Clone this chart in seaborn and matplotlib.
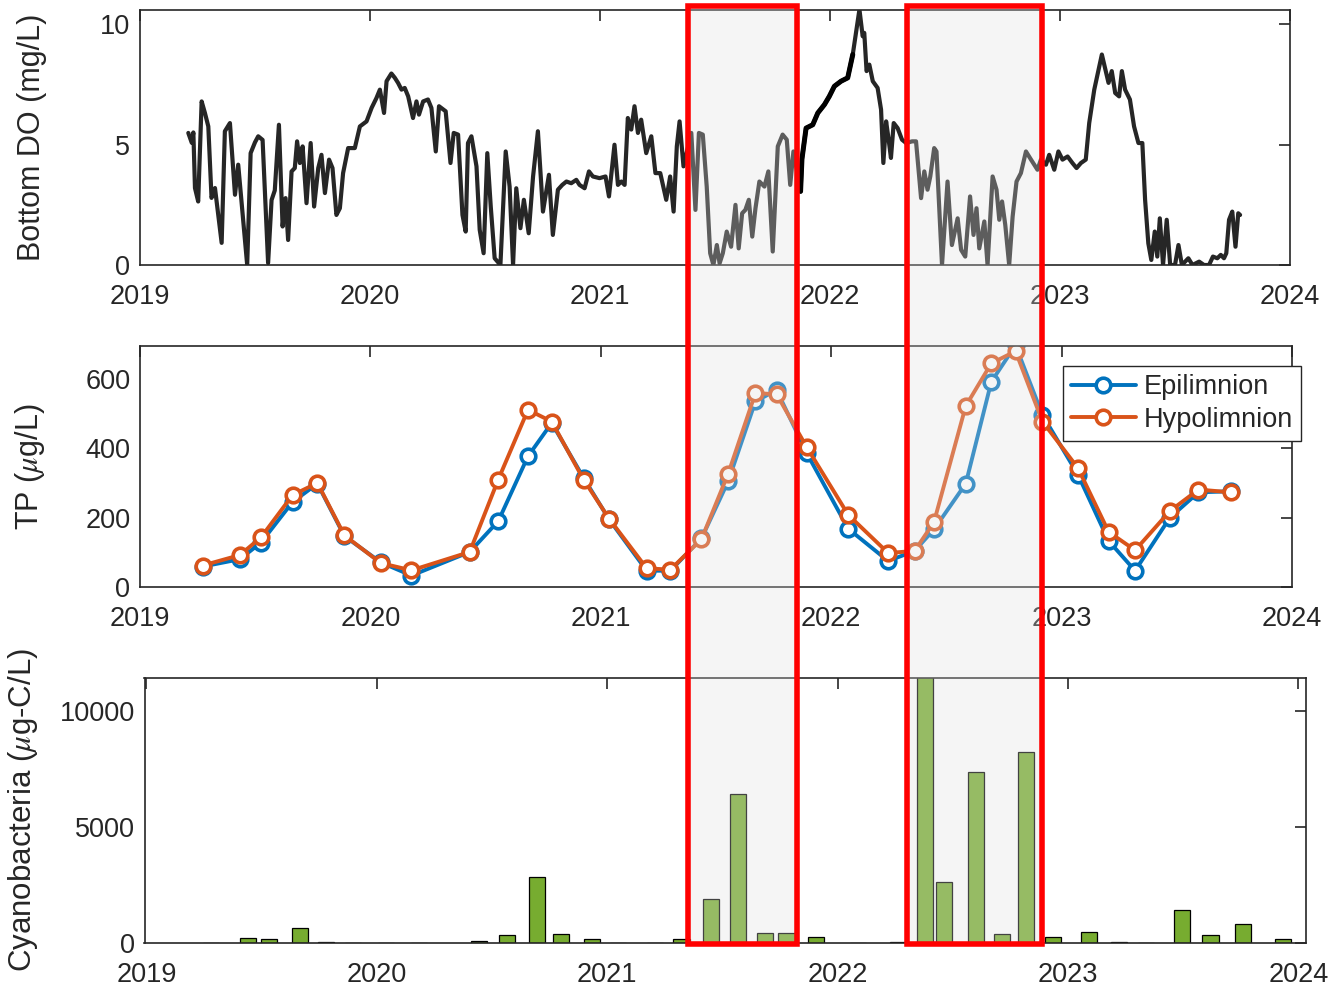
import numpy as np
import pandas as pd
import matplotlib
matplotlib.use("Agg")
import matplotlib.pyplot as plt
from matplotlib.patches import Rectangle
import seaborn as sns

# ---- data (decimal years) ----
do_year = [
    2019.210, 2019.225, 2019.232, 2019.239, 2019.253, 2019.268, 2019.282, 2019.297, 2019.311, 2019.326,
    2019.355, 2019.369, 2019.391, 2019.413, 2019.427, 2019.442, 2019.466, 2019.481, 2019.500, 2019.514,
    2019.533, 2019.557, 2019.572, 2019.586, 2019.604, 2019.620, 2019.633, 2019.644, 2019.659, 2019.673,
    2019.683, 2019.695, 2019.707, 2019.724, 2019.742, 2019.757, 2019.775, 2019.789, 2019.804, 2019.822,
    2019.837, 2019.854, 2019.869, 2019.883, 2019.905, 2019.934, 2019.956, 2019.985, 2020.007, 2020.028,
    2020.043, 2020.061, 2020.072, 2020.093, 2020.108, 2020.122, 2020.137, 2020.151, 2020.166, 2020.187,
    2020.202, 2020.213, 2020.231, 2020.252, 2020.267, 2020.286, 2020.300, 2020.329, 2020.350, 2020.364,
    2020.383, 2020.402, 2020.416, 2020.426, 2020.441, 2020.463, 2020.477, 2020.494, 2020.510, 2020.525,
    2020.542, 2020.567, 2020.590, 2020.607, 2020.622, 2020.636, 2020.654, 2020.669, 2020.690, 2020.709,
    2020.730, 2020.752, 2020.778, 2020.795, 2020.817, 2020.836, 2020.854, 2020.875, 2020.897, 2020.911,
    2020.933, 2020.952, 2020.969, 2020.998, 2021.024, 2021.039, 2021.063, 2021.078, 2021.093, 2021.107,
    2021.121, 2021.136, 2021.150, 2021.165, 2021.179, 2021.201, 2021.223, 2021.241, 2021.262, 2021.288,
    2021.305, 2021.320, 2021.334, 2021.346, 2021.363, 2021.397, 2021.415, 2021.430, 2021.447, 2021.464,
    2021.479, 2021.493, 2021.508, 2021.520, 2021.534, 2021.551, 2021.570, 2021.589, 2021.603, 2021.618,
    2021.632, 2021.647, 2021.662, 2021.676, 2021.693, 2021.715, 2021.732, 2021.751, 2021.773, 2021.794,
    2021.812, 2021.827, 2021.841, 2021.853, 2021.872, 2021.878, 2021.896, 2021.925, 2021.947, 2021.976,
    2021.997, 2022.019, 2022.048, 2022.077, 2022.099, 2022.128, 2022.142, 2022.149, 2022.159, 2022.171,
    2022.186, 2022.207, 2022.222, 2022.232, 2022.244, 2022.255, 2022.265, 2022.277, 2022.294, 2022.313,
    2022.331, 2022.357, 2022.374, 2022.396, 2022.410, 2022.424, 2022.436, 2022.453, 2022.463, 2022.487,
    2022.511, 2022.530, 2022.555, 2022.570, 2022.588, 2022.609, 2022.624, 2022.637, 2022.649, 2022.671,
    2022.685, 2022.707, 2022.724, 2022.736, 2022.748, 2022.762, 2022.779, 2022.794, 2022.811, 2022.830,
    2022.852, 2022.874, 2022.902, 2022.917, 2022.939, 2022.953, 2022.975, 2022.993, 2023.011, 2023.033,
    2023.054, 2023.072, 2023.091, 2023.112, 2023.127, 2023.149, 2023.182, 2023.199, 2023.211, 2023.225,
    2023.240, 2023.257, 2023.269, 2023.283, 2023.304, 2023.322, 2023.341, 2023.358, 2023.370, 2023.384,
    2023.397, 2023.412, 2023.423, 2023.434, 2023.448, 2023.464, 2023.479, 2023.500, 2023.515, 2023.530,
    2023.558, 2023.576, 2023.605, 2023.626, 2023.648, 2023.665, 2023.684, 2023.699, 2023.713, 2023.723,
    2023.735, 2023.749, 2023.763, 2023.775, 2023.783,
]
do_val = [
    5.49, 5.08, 5.51, 3.20, 2.64, 6.80, 6.33, 5.76, 2.79, 3.20,
    0.92, 5.56, 5.90, 2.92, 4.17, 2.58, 0.00, 4.65, 5.10, 5.35,
    5.20, 0.08, 2.70, 3.10, 5.83, 1.60, 2.78, 1.04, 3.89, 4.03,
    5.14, 4.24, 4.93, 2.57, 5.07, 2.43, 4.03, 4.58, 2.99, 4.38,
    4.03, 2.08, 2.36, 3.82, 4.86, 4.86, 5.76, 5.97, 6.53, 6.94,
    7.29, 6.32, 7.64, 7.96, 7.78, 7.57, 7.29, 7.36, 7.01, 6.11,
    6.80, 6.25, 6.80, 6.88, 6.53, 4.72, 6.60, 6.39, 4.24, 5.49,
    5.42, 2.08, 1.39, 5.07, 5.35, 4.10, 1.46, 0.49, 4.65, 2.43,
    0.28, 0.00, 4.72, 3.26, 0.00, 3.19, 1.53, 2.71, 1.32, 3.68,
    5.56, 2.22, 3.75, 1.25, 3.13, 3.33, 3.47, 3.40, 3.54, 3.33,
    3.19, 3.89, 3.68, 3.61, 3.68, 2.85, 5.00, 3.33, 3.47, 3.33,
    6.11, 5.63, 6.60, 5.49, 6.04, 4.65, 5.35, 3.82, 3.82, 2.71,
    3.68, 2.22, 4.93, 5.97, 4.10, 5.49, 2.29, 5.49, 5.42, 3.26,
    0.49, 0.00, 0.83, 0.07, 0.49, 1.39, 0.76, 2.50, 0.69, 2.15,
    2.29, 2.71, 1.18, 2.36, 3.47, 3.26, 3.89, 0.56, 4.93, 5.42,
    5.21, 3.33, 4.72, 4.10, 3.06, 4.40, 5.69, 5.83, 6.32, 6.67,
    7.01, 7.43, 7.64, 7.78, 8.75, 10.62, 9.51, 9.65, 8.06, 8.33,
    7.64, 7.36, 6.46, 4.24, 5.97, 5.21, 4.45, 5.90, 5.69, 5.21,
    5.07, 5.14, 5.14, 2.78, 3.89, 3.13, 3.68, 4.86, 4.72, 0.00,
    3.47, 0.83, 1.94, 0.63, 0.35, 2.85, 1.25, 2.36, 0.69, 1.81,
    0.00, 3.68, 3.13, 1.88, 2.64, 1.67, 0.00, 2.01, 3.47, 3.82,
    4.72, 4.38, 3.96, 4.38, 4.17, 4.58, 3.96, 4.72, 4.38, 4.51,
    4.24, 4.03, 4.24, 4.38, 5.90, 7.29, 8.75, 8.06, 7.57, 8.06,
    7.15, 7.01, 8.06, 7.29, 6.88, 5.76, 5.07, 5.07, 2.71, 0.90,
    0.21, 1.39, 0.35, 1.94, 0.00, 1.88, 0.00, 0.00, 0.83, 0.00,
    0.28, 0.00, 0.14, 0.00, 0.00, 0.35, 0.28, 0.42, 0.28, 0.49,
    1.88, 2.22, 0.76, 2.15, 2.08,
]

tp_year = [
    2019.272, 2019.433, 2019.525, 2019.662, 2019.770, 2019.887, 2020.045, 2020.178, 2020.431, 2020.555,
    2020.684, 2020.787, 2020.925, 2021.036, 2021.199, 2021.302, 2021.437, 2021.553, 2021.671, 2021.763,
    2021.893, 2022.074, 2022.247, 2022.362, 2022.446, 2022.584, 2022.695, 2022.800, 2022.917, 2023.071,
    2023.204, 2023.319, 2023.470, 2023.594, 2023.735,
]
tp_epi = [
    59, 80, 128, 245, 298, 147, 71, 33, 101, 190,
    377, 473, 315, 195, 47, 47, 140, 305, 535, 568,
    387, 168, 75, 104, 166, 298, 592, 697, 496, 324,
    133, 47, 200, 273, 276,
]
tp_hypo = [
    62, 92, 143, 265, 300, 149, 69, 48, 101, 310,
    511, 477, 310, 197, 54, 50, 138, 327, 559, 556,
    404, 208, 98, 104, 187, 522, 645, 680, 477, 343,
    159, 106, 219, 281, 273,
]

cyano_year = [
    2019.280, 2019.439, 2019.530, 2019.666, 2019.780, 2019.895, 2020.040, 2020.184, 2020.442, 2020.563,
    2020.696, 2020.799, 2020.934, 2021.048, 2021.208, 2021.322, 2021.451, 2021.567, 2021.685, 2021.778,
    2021.905, 2022.088, 2022.260, 2022.378, 2022.463, 2022.600, 2022.713, 2022.817, 2022.934, 2023.089,
    2023.221, 2023.339, 2023.495, 2023.618, 2023.761, 2023.932,
]
cyano_val = [
    20, 230, 160, 663, 40, 20, 10, 10, 100, 346,
    2843, 403, 188, 20, 20, 160, 1905, 6410, 419, 419,
    274, 20, 60, 11800, 2612, 7347, 375, 8213, 274, 461,
    40, 20, 1414, 346, 808, 188,
]

highlight_periods = [(2021.383, 2021.857), (2022.336, 2022.923)]
year_ticks = [2019, 2020, 2021, 2022, 2023, 2024]

# ---- style ----
sns.set_theme(style="white")
plt.rcParams["font.family"] = ["Liberation Sans", "DejaVu Sans"]
plt.rcParams["mathtext.fontset"] = "stix"
ink = "#262626"
blue = "#0072BD"
orange = "#D95319"
green = "#77AC30"
tick_fs = 19.5
label_fs = 22

fig = plt.figure(figsize=(13.35, 9.89), dpi=100)
W, H = 1335, 989


def add_axes_px(left, top, right, bottom):
    return fig.add_axes([left / W, 1 - bottom / H, (right - left) / W, (bottom - top) / H])


ax1 = add_axes_px(140, 10, 1290, 265)
ax2 = add_axes_px(140, 346, 1292, 587)
ax3 = add_axes_px(144.5, 678, 1306, 943)

# DO
do = pd.DataFrame({"year": do_year, "DO": do_val})
sns.lineplot(data=do, x="year", y="DO", ax=ax1, color=ink, lw=3.0, sort=False,
             estimator=None)
dark = do[(do["year"] >= 2021.872) & (do["year"] <= 2022.10)]
sns.lineplot(data=dark, x="year", y="DO", ax=ax1, color="black", lw=3.6, sort=False,
             estimator=None)
ax1.set_ylim(0, 10.6)
ax1.set_yticks([0, 5, 10])
ax1.set_xlim(2019, 2024)
ax1.set_ylabel("Bottom DO (mg/L)", fontsize=label_fs, color=ink)
ax1.yaxis.set_label_coords(-0.081, 0.5)

# TP
tp = pd.DataFrame({"year": tp_year, "Epilimnion": tp_epi, "Hypolimnion": tp_hypo})
for col, c in [("Epilimnion", blue), ("Hypolimnion", orange)]:
    sns.lineplot(data=tp, x="year", y=col, ax=ax2, color=c, lw=2.8, marker="o",
                 markersize=10.5, markerfacecolor="white", markeredgecolor=c,
                 markeredgewidth=2.6, label=col, sort=False, estimator=None)
ax2.set_ylim(0, 695)
ax2.set_yticks([0, 200, 400, 600])
ax2.set_xlim(2019, 2024)
ax2.set_ylabel(r"TP ($\mu$g/L)", fontsize=label_fs, color=ink)
ax2.yaxis.set_label_coords(-0.081, 0.5)
leg = ax2.legend(loc="upper right", bbox_to_anchor=(1.008, 0.917), borderaxespad=0,
                 fontsize=tick_fs, frameon=True, fancybox=False, framealpha=1,
                 edgecolor=ink, handlelength=2.4, handletextpad=0.3,
                 labelspacing=0.25, borderpad=0.3)
leg.get_frame().set_linewidth(1.0)

# Cyanobacteria
ax3.bar(cyano_year, cyano_val, width=0.07, color=green, edgecolor="black", linewidth=0.9)
ax3.set_ylim(0, 11400)
ax3.set_yticks([0, 5000, 10000])
ax3.set_xlim(2019 - 2 / 230.4, 2024 + 7.5 / 230.4)
ax3.set_ylabel(r"Cyanobacteria ($\mu$g-C/L)", fontsize=label_fs + 0.5, color=ink)
ax3.yaxis.set_label_coords(-0.09, 0.5)

for ax in (ax1, ax2, ax3):
    ax.set_xticks(year_ticks)
    ax.set_xticklabels([str(y) for y in year_ticks])
    ax.set_xlabel("")
    ax.tick_params(direction="in", top=True, right=True, length=8, width=1.2,
                   colors=ink, labelsize=tick_fs, labelcolor=ink)
    ax.tick_params(axis="x", pad=14)
    ax.tick_params(axis="y", pad=7)
    for s in ax.spines.values():
        s.set_color(ink)
        s.set_linewidth(1.2)
    ax.set_facecolor("white")

# highlight boxes (figure-level overlay spanning all panels)
fig.canvas.draw()
y_top = 1 - 6 / H
y_bot = 1 - 944 / H
for x0, x1 in highlight_periods:
    px0 = ax1.transData.transform((x0, 0))[0] / W
    px1 = ax1.transData.transform((x1, 0))[0] / W
    fig.add_artist(Rectangle((px0, y_bot), px1 - px0, y_top - y_bot,
                             transform=fig.transFigure, facecolor=(0.87, 0.87, 0.87),
                             alpha=0.3, edgecolor="none", zorder=5))
    fig.add_artist(Rectangle((px0, y_bot), px1 - px0, y_top - y_bot,
                             transform=fig.transFigure, fill=False, edgecolor="#FF0000",
                             linewidth=4, zorder=6))

fig.savefig("out.png", dpi=100)
